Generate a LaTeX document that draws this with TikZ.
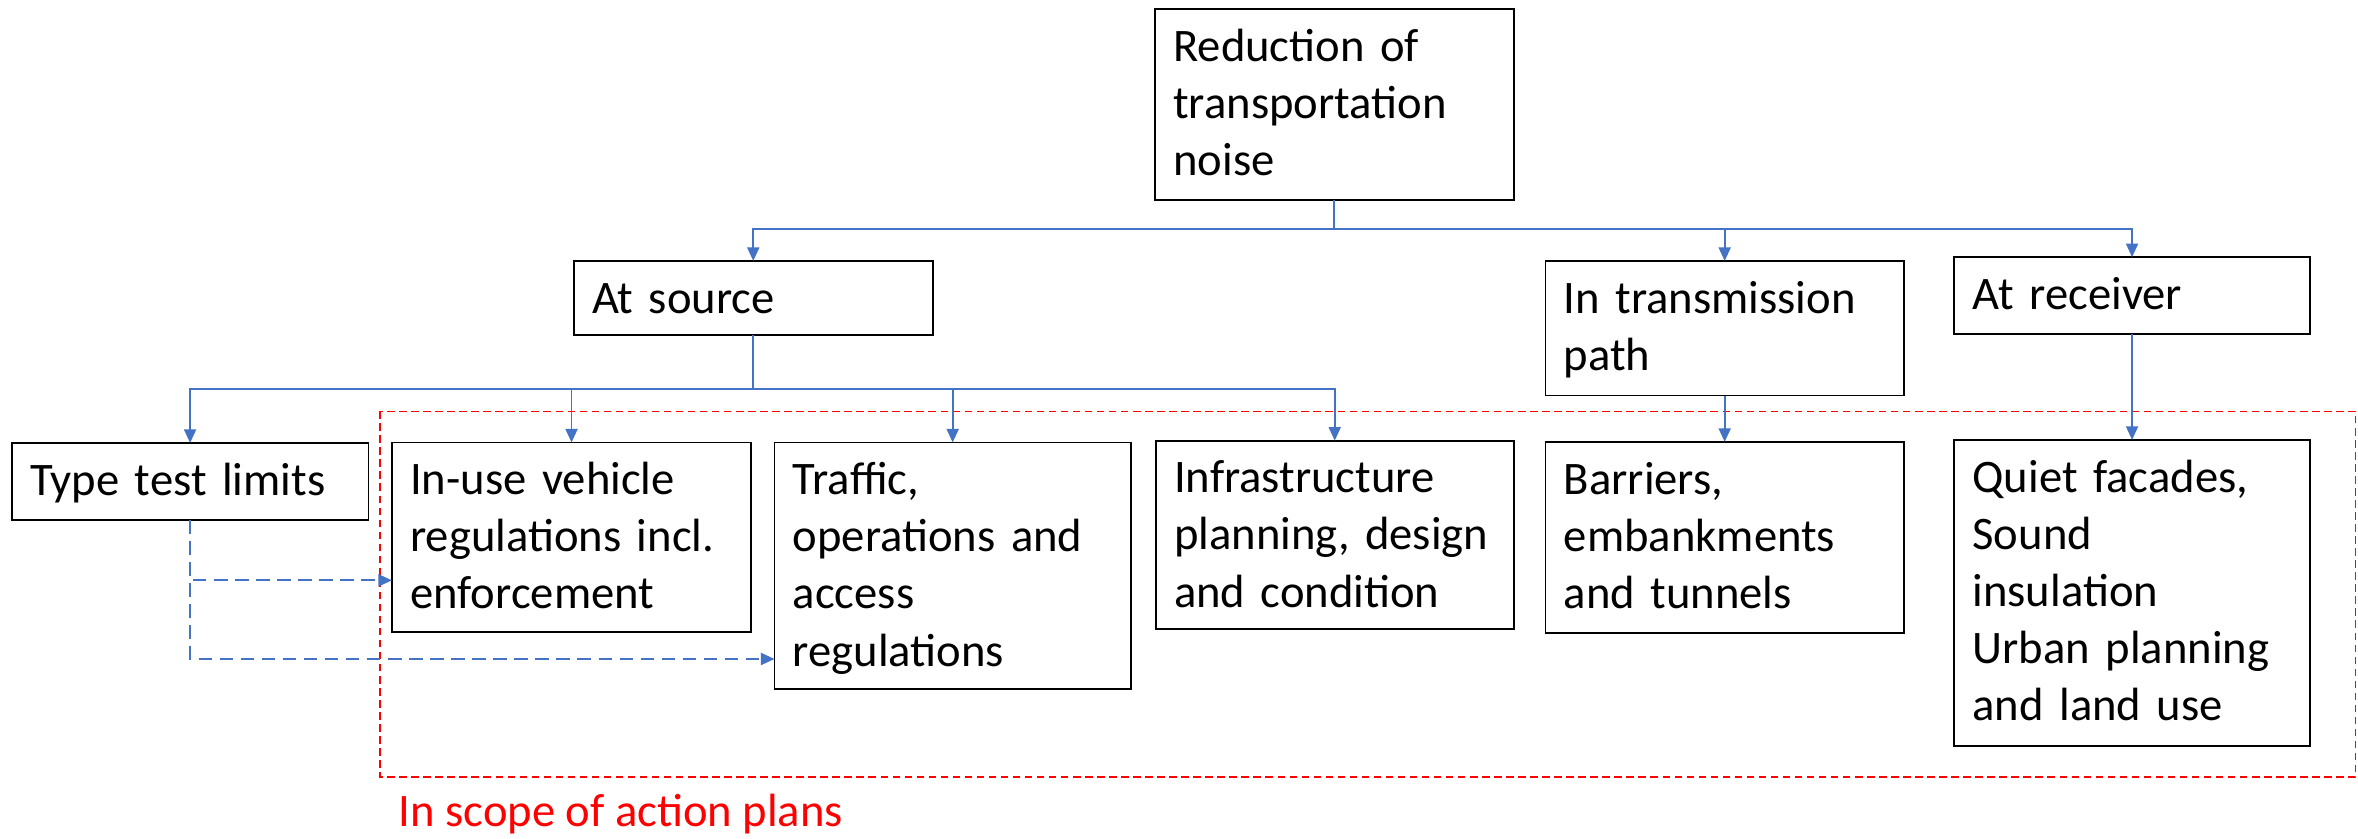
\documentclass[tikz,border=0pt]{standalone}
\usepackage{fontspec}
\setmainfont{Carlito}
\usetikzlibrary{arrows.meta}
\definecolor{linkblue}{HTML}{4472C4}
\definecolor{scopered}{HTML}{FF0000}
\tikzset{
  box/.style={draw=black, line width=1.2pt, inner sep=0pt, outer sep=0pt, fill=white},
  txt/.style={inner sep=0pt, text width=228pt, align=left, font=\fontsize{31}{38}\selectfont},
  conn/.style={draw=linkblue, line width=1.2pt},
  arr/.style={conn, -{Triangle[length=9pt,width=8pt]}},
  darr/.style={arr, dash pattern=on 9pt off 5pt},
  scope/.style={draw=scopered, line width=1pt, dash pattern=on 5pt off 3pt}
}
\newcommand\drawbox[6]{%
  \node[box, minimum width={#4-#2}, minimum height={#5-#3}, anchor=north west] (#1) at (#2,#3) {};
  \node[txt, anchor=base west] (#1t) at ({#2+12},{#3+34.7}) {#6};}
\begin{document}
\begin{tikzpicture}[x=1pt,y=-1pt]
\useasboundingbox[fill=white] (0,0) rectangle (1568,557.3);
% scope frame
\draw[scope] (252.8,273.5) rectangle (1566.3,516.8);
\node[anchor=base west, inner sep=0pt, text=scopered, font=\fontsize{31}{38}\selectfont] (scopelabel) at (265,549.5) {In scope of action plans};
% boxes
\drawbox{top}{768}{6}{1006.5}{133}{Reduction of\\transportation\\noise}
\drawbox{src}{381.5}{173.5}{620.3}{223}{At source}
\drawbox{trans}{1027.7}{173.5}{1266}{263}{In transmission\\path}
\drawbox{recv}{1299.5}{171}{1536}{222}{At receiver}
\drawbox{type}{7.8}{294.5}{245}{345.8}{Type test limits}
\drawbox{inuse}{260.6}{294.2}{499.5}{420}{In-use vehicle\\regulations incl.\\enforcement}
\drawbox{traffic}{515}{294.2}{752}{458}{Traffic,\\operations and\\access\\regulations}
\drawbox{infra}{768.5}{293}{1006.6}{418}{Infrastructure\\planning, design\\and condition}
\drawbox{barr}{1027.7}{293.8}{1266}{420.8}{Barriers,\\embankments\\and tunnels}
\drawbox{quiet}{1299.5}{292.5}{1536}{496}{Quiet facades,\\Sound\\insulation\\Urban planning\\and land use}
% top level connectors
\coordinate (j1) at (887.25,152.5);
\draw[conn] (top.south) -- (j1);
\draw[arr] (j1) -| (src.north);
\draw[arr] (j1) -| (trans.north);
\draw[arr] (j1) -| (recv.north);
% source branch
\coordinate (j2) at (500.9,258.6);
\draw[conn] (src.south) -- (j2);
\draw[arr] (j2) -| (type.north);
\draw[arr] (j2) -| (inuse.north);
\draw[arr] (j2) -| (traffic.north);
\draw[arr] (j2) -| (infra.north);
\draw[arr] (trans.south) -- (barr.north);
\draw[arr] (recv.south) -- (quiet.north);
% dashed links
\coordinate (d1) at (126.4,385.9);
\coordinate (d2) at (126.4,438.2);
\draw[darr] (type.south) |- (inuse.west |- d1);
\draw[darr] (type.south) |- (traffic.west |- d2);
\end{tikzpicture}
\end{document}
